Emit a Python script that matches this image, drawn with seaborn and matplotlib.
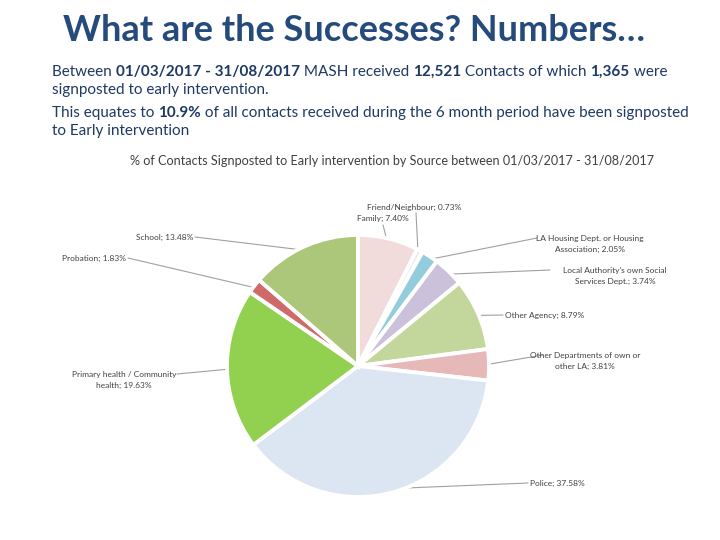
import numpy as np
import matplotlib
matplotlib.use("Agg")
import matplotlib.pyplot as plt
import seaborn as sns

# ---------------- data ----------------
sources = ["Family", "Friend/Neighbour", "LA Housing Dept. or Housing\nAssociation",
           "Local Authority's own Social\nServices Dept.", "Other Agency",
           "Other Departments of own or\nother LA", "Police",
           "Primary health / Community\nhealth", "Probation", "School"]
percents = [7.40, 0.73, 2.05, 3.74, 8.79, 3.81, 37.58, 19.63, 1.83, 13.48]
colors = ["#F2DCDB", "#EDEAF2", "#93CDDD", "#CCC1DA", "#C3D69B",
          "#E6B9B8", "#DCE6F2", "#92D050", "#D06A6A", "#ADC77A"]

title = "What are the Successes? Numbers…"
body_lines = [
    [("Between ", False), ("01/03/2017 - 31/08/2017", True), (" MASH received ", False),
     ("12,521", True), (" Contacts of which ", False), ("1,365", True), (" were", False)],
    [("signposted to early intervention.", False)],
    [("This equates to ", False), ("10.9%", True),
     (" of all contacts received during the 6 month period have been signposted", False)],
    [("to Early intervention", False)],
]
subtitle = "% of Contacts Signposted to Early intervention by Source between 01/03/2017 - 31/08/2017"

# label layout (pixel positions, ha, attach point)
label_pos = [
    (357, 218, "left", (383, 225)),
    (367, 207, "left", (416, 213)),
    (590, 244, "center", (537, 238)),
    (615, 276, "center", (550, 270)),
    (505, 315, "left", (503, 315)),
    (585, 361, "center", (543, 355)),
    (530, 483, "left", (528, 483)),
    (124, 380, "center", (177, 374)),
    (126, 258, "right", (128, 258)),
    (193, 237, "right", (195, 237)),
]

# ---------------- figure ----------------
sns.set_theme(style="white")
plt.rcParams["font.family"] = ["Lato", "DejaVu Sans"]

W, H = 720, 540
fig = plt.figure(figsize=(7.2, 5.4), dpi=100)
ax = fig.add_axes([0, 0, 1, 1])
ax.set_xlim(0, W)
ax.set_ylim(0, H)
ax.axis("off")

def py(y):
    return H - y

cx, cy, R = 358, py(366), 131
explode = [0.025] * len(percents)
wedges, _ = ax.pie(percents, colors=colors, startangle=90, counterclock=False,
                   center=(cx, cy), radius=R, explode=explode,
                   wedgeprops=dict(edgecolor="white", linewidth=2.8))
ax.set_xlim(0, W)
ax.set_ylim(0, H)
ax.set_aspect("equal")

for w, name, pct, (lx, ly, ha, (axp, ayp)) in zip(wedges, sources, percents, label_pos):
    mid = np.deg2rad((w.theta1 + w.theta2) / 2)
    wc = w.center
    ex, ey = wc[0] + R * 0.97 * np.cos(mid), wc[1] + R * 0.97 * np.sin(mid)
    ax.plot([ex, axp], [ey, py(ayp)], color="#A0A0A0", lw=0.8, zorder=0)
    txt = f"{name}; {pct:.2f}%"
    ax.text(lx, py(ly), txt, ha=ha, va="center", fontsize=6, color="#404040",
            linespacing=1.5, multialignment="center")

# title
fig.text(354 / W, 1 - 31 / H, title, ha="center", va="center", fontsize=26,
         fontweight="bold", color="#254A7C")

# body text with mixed bold runs
renderer = fig.canvas.get_renderer()
def run_width(s, bold, size):
    t1 = fig.text(0, 0, "|" + s + "|", fontsize=size, fontweight="bold" if bold else "normal")
    t2 = fig.text(0, 0, "||", fontsize=size, fontweight="bold" if bold else "normal")
    wdt = t1.get_window_extent(renderer).width - t2.get_window_extent(renderer).width
    t1.remove(); t2.remove()
    return wdt

body_y = [72, 90, 113, 131]
bsize = 11
for line, yy in zip(body_lines, body_y):
    x = 52
    for s, bold in line:
        fig.text(x / W, 1 - yy / H, s, ha="left", va="center", fontsize=bsize,
                 fontweight="bold" if bold else "normal", color="#1F3864")
        x += run_width(s, bold, bsize)

fig.text(392 / W, 1 - 161 / H, subtitle, ha="center", va="center", fontsize=9.1,
         color="#404040")

fig.savefig("out.png", dpi=100)
